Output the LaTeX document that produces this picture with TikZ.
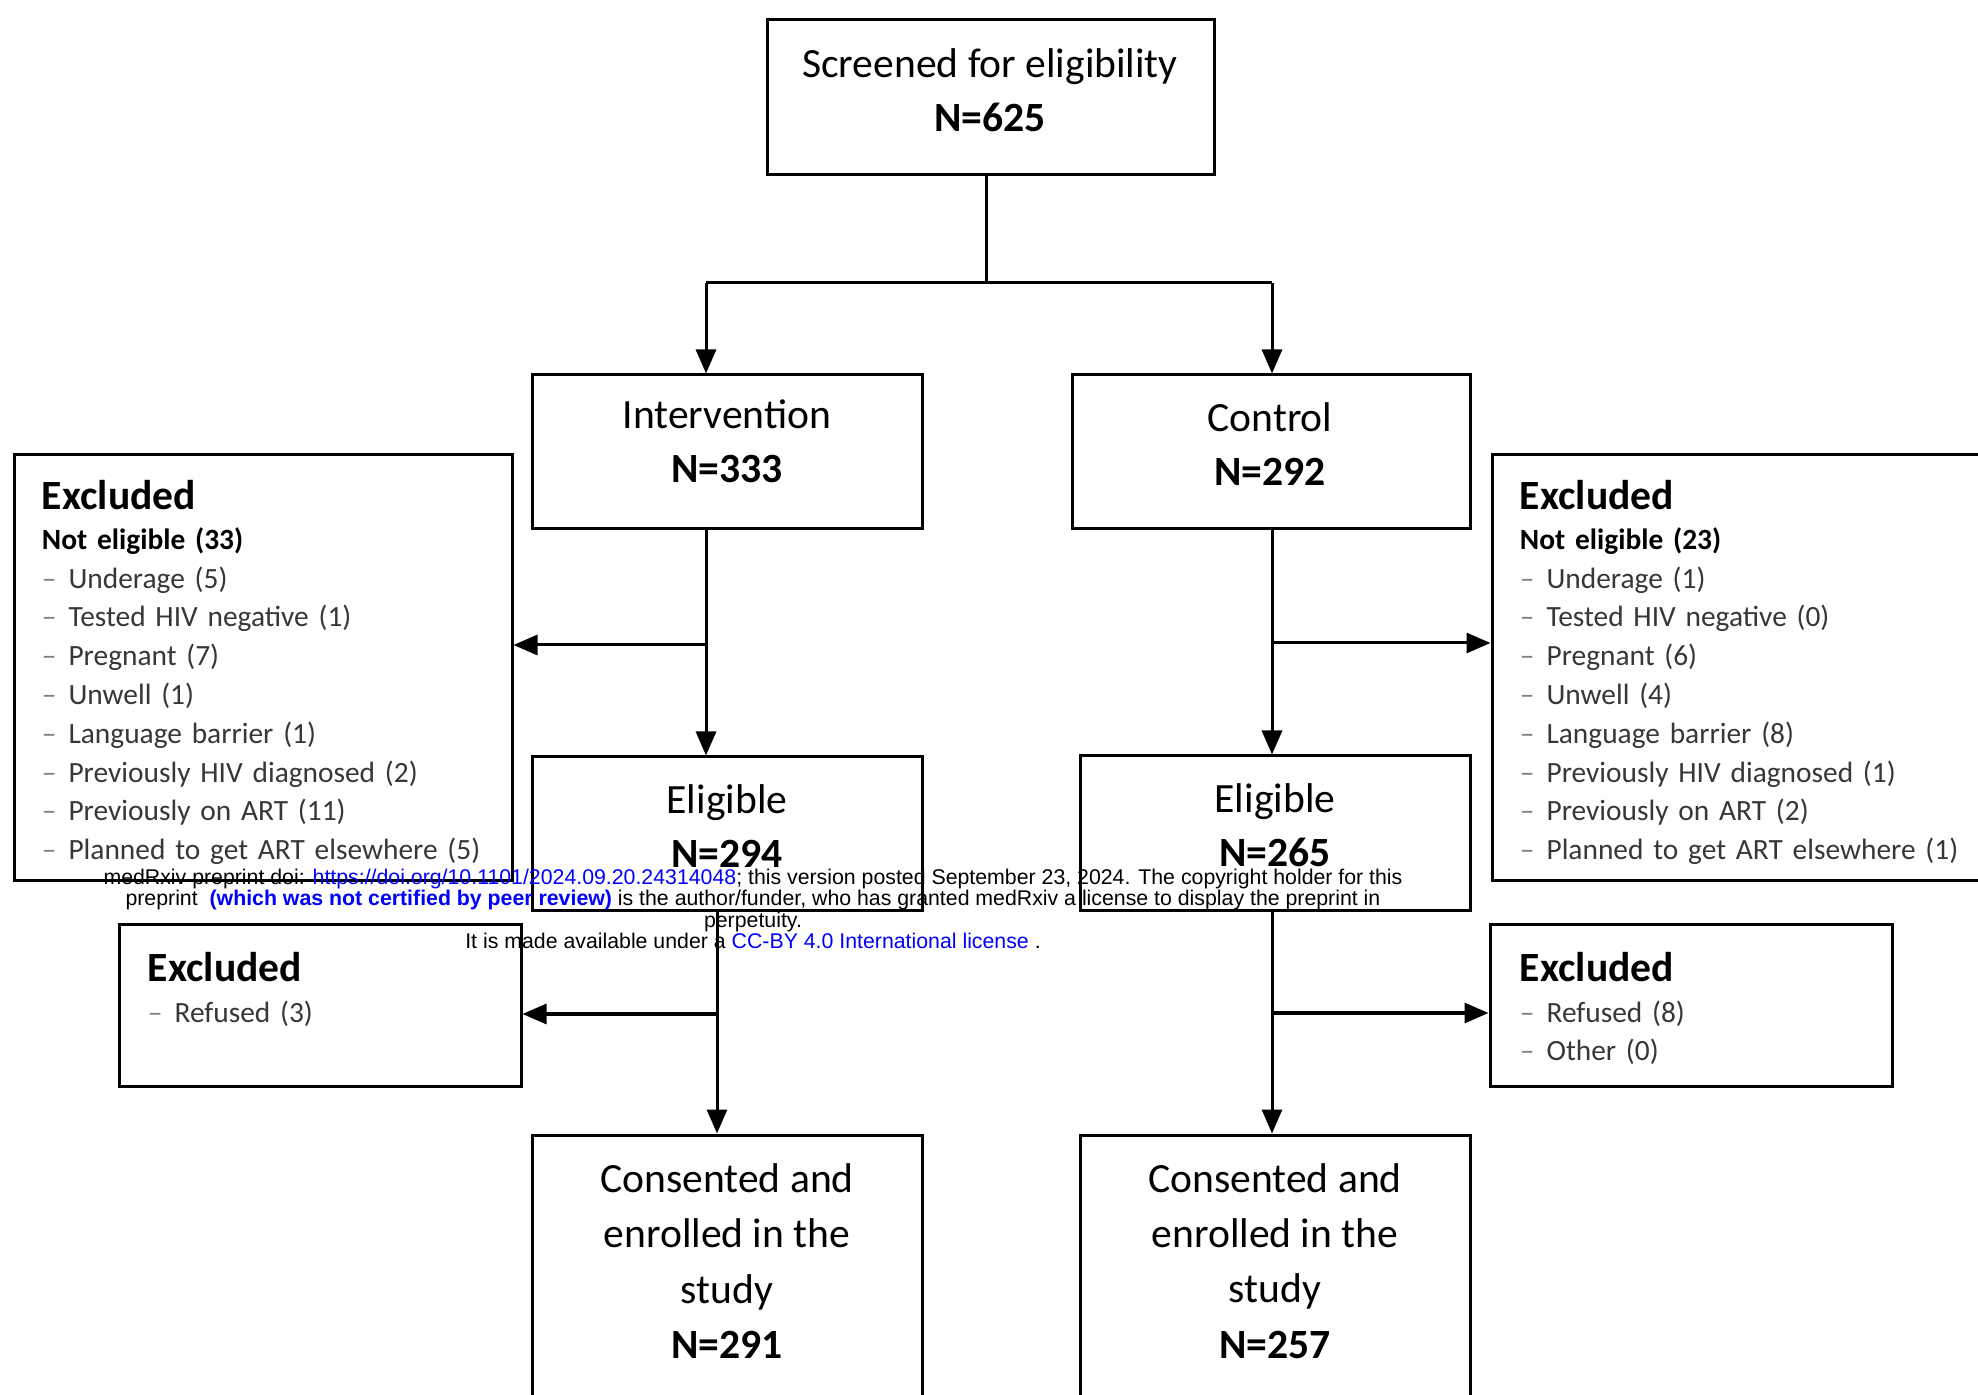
\documentclass[tikz,border=0pt]{standalone}
\usepackage{fontspec}
\setmainfont{Carlito}
\newfontfamily\wmfont{Liberation Sans}
\usepackage{xcolor}
\usetikzlibrary{arrows.meta,positioning}
\definecolor{wmblue}{RGB}{0,0,255}
\definecolor{itemgray}{RGB}{55,55,55}
\tikzstyle{flow} = [line width=1.5pt,-{Triangle[length=12pt,width=10pt]}]
\tikzstyle{link} = [line width=1.5pt]
\tikzstyle{frame} = [draw, line width=1.5pt, rectangle, inner sep=0pt]
\tikzstyle{bigtxt} = [align=center, inner sep=0pt, font=\fontsize{20.8}{27}\selectfont]
\tikzstyle{extxt} = [align=left, text width=232pt, inner sep=0pt, anchor=north west, font=\fontsize{14.7}{19.4}\selectfont]
\newcommand{\reason}{{\color{gray}--}\hspace{6pt}\color{itemgray}}
\newcommand{\exhead}{\fontsize{20.8}{25}\selectfont\bfseries}

\begin{document}
\begin{tikzpicture}[x=0.5pt, y=-0.5pt]
\useasboundingbox[fill=white] (0,0) rectangle (1978,1395);

% Boxes
\node[frame, minimum width=223.5pt, minimum height=77.5pt] (scr) at (990.5,97.5) {};
\node[frame, minimum width=195pt, minimum height=77pt] (int) at (727,452) {};
\node[frame, minimum width=199pt, minimum height=77pt] (ctl) at (1271,452) {};
\node[frame, minimum width=249pt, minimum height=213pt] (exl1) at (263,668) {};
\node[frame, minimum width=254pt, minimum height=213pt] (exr1) at (1746,668) {};
\node[frame, minimum width=195pt, minimum height=77pt] (eli1) at (727,834) {};
\node[frame, minimum width=195pt, minimum height=77.5pt] (eli2) at (1275,833.5) {};
\node[frame, minimum width=201pt, minimum height=80.5pt] (exl2) at (320,1005.5) {};
\node[frame, minimum width=201pt, minimum height=80.5pt] (exr2) at (1691,1005.5) {};
\node[frame, minimum width=195pt, minimum height=150pt] (enr1) at (727,1285) {};
\node[frame, minimum width=195pt, minimum height=150pt] (enr2) at (1275,1285) {};

% Box texts
\node[bigtxt] (scrt) at (990,90) {Screened for eligibility\\\textbf{N=625}};
\node[bigtxt] (intt) at (727,441) {Intervention\\\textbf{N=333}};
\node[bigtxt] (ctlt) at (1270,444) {Control\\\textbf{N=292}};
\node[bigtxt] (eli1t) at (727,826) {Eligible\\\textbf{N=294}};
\node[bigtxt] (eli2t) at (1275,825) {Eligible\\\textbf{N=265}};
\node[bigtxt, font=\fontsize{20.8}{27.6}\selectfont] (enr1t) at (727,1261) {Consented and\\enrolled in the\\study\\\textbf{N=291}};
\node[bigtxt, font=\fontsize{20.8}{27.6}\selectfont] (enr2t) at (1275,1261) {Consented and\\enrolled in the\\study\\\textbf{N=257}};

% Exclusions
\node[extxt] (exl1t) at ([shift={(29,26)}]exl1.north west) {{\exhead Excluded}\\[0.7pt]
  \textbf{Not eligible (33)}\\
  \reason Underage (5)\\
  \reason Tested HIV negative (1)\\
  \reason Pregnant (7)\\
  \reason Unwell (1)\\
  \reason Language barrier (1)\\
  \reason Previously HIV diagnosed (2)\\
  \reason Previously on ART (11)\\
  \reason Planned to get ART elsewhere (5)};
\node[extxt] (exr1t) at ([shift={(29,26)}]exr1.north west) {{\exhead Excluded}\\[0.7pt]
  \textbf{Not eligible (23)}\\
  \reason Underage (1)\\
  \reason Tested HIV negative (0)\\
  \reason Pregnant (6)\\
  \reason Unwell (4)\\
  \reason Language barrier (8)\\
  \reason Previously HIV diagnosed (1)\\
  \reason Previously on ART (2)\\
  \reason Planned to get ART elsewhere (1)};
\node[extxt] (exl2t) at ([shift={(30,28)}]exl2.north west) {{\exhead Excluded}\\[1.1pt]
  \reason Refused (3)};
\node[extxt] (exr2t) at ([shift={(31,28)}]exr2.north west) {{\exhead Excluded}\\[1.1pt]
  \reason Refused (8)\\
  \reason Other (0)};

% Connectors
\coordinate (split) at (986,283);
\coordinate (jl) at (706,283);
\coordinate (jr) at (1272,283);
\coordinate (bl1) at (706,645);
\coordinate (br1) at (1272,643);
\coordinate (bl2) at (717,1014);
\coordinate (br2) at (1272,1013);

\draw[link] (scr.south -| split) -- (split);
\draw[link] (jl) -- (jr);
\draw[flow] (jl) -- (jl |- int.north);
\draw[flow] (jr) -- (jr |- ctl.north);

\draw[flow] (bl1 |- int.south) -- (bl1 |- eli1.north);
\draw[flow] (bl1) -- (bl1 -| exl1.east);
\draw[flow] (br1 |- ctl.south) -- (br1 |- eli2.north);
\draw[flow] (br1) -- (br1 -| exr1.west);

\draw[flow] (bl2 |- eli1.south) -- (bl2 |- enr1.north);
\draw[flow] (bl2) -- (bl2 -| exl2.east);
\draw[flow] (br2 |- eli2.south) -- (br2 |- enr2.north);
\draw[flow] (br2) -- (br2 -| exr2.west);

% medRxiv notice
\node[align=center, inner sep=0pt, font=\wmfont\fontsize{10.65}{10.7}\selectfont] (notice) at (753,909)
  {medRxiv preprint doi: \textcolor{wmblue}{https://doi.org/10.1101/2024.09.20.24314048}; this version posted September 23, 2024. The copyright holder for this\\
   preprint \ \textcolor{wmblue}{\textbf{(which was not certified by peer review)}} is the author/funder, who has granted medRxiv a license to display the preprint in\\
   perpetuity.\\
   It is made available under a \textcolor{wmblue}{CC-BY 4.0 International license} .};
\end{tikzpicture}
\end{document}
